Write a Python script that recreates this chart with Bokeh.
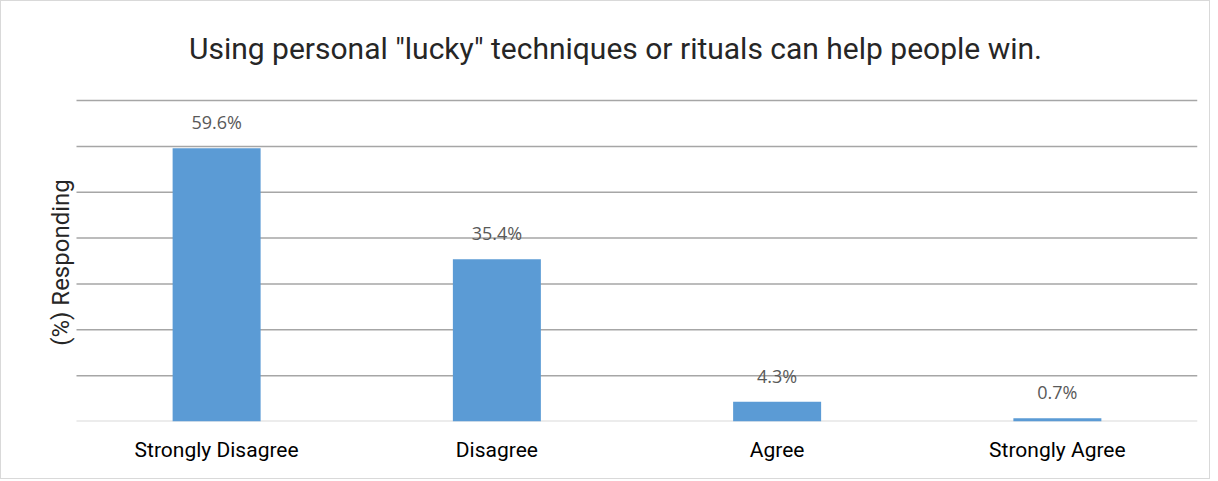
import math
from bokeh.plotting import figure
from bokeh.models import ColumnDataSource, LabelSet, Label, Range1d, FixedTicker
from bokeh.core.properties import value
from bokeh.embed import file_html
from bokeh.resources import INLINE

categories = ["Strongly Disagree", "Disagree", "Agree", "Strongly Agree"]
values = [59.6, 35.4, 4.3, 0.7]
labels = ["59.6%", "35.4%", "4.3%", "0.7%"]
grid_ticks = [10, 20, 30, 40, 50, 60, 70]
title_text = 'Using personal "lucky" techniques or rituals can help people win.'
y_label = "(%) Responding"

n = len(categories)
xpos = [i + 0.5 for i in range(n)]
src = ColumnDataSource(dict(x=xpos, cat=categories, val=values, lab=labels))

# frame covers the whole figure except the category-label strip; ranges extended so that
# the category area starts at x=0 and the 70% gridline sits where the reference has it
p = figure(x_range=Range1d(-0.2676, n), y_range=Range1d(0, 91.6), width=1210, height=479,
           output_backend="svg", toolbar_location=None, title_location=None,
           min_border_left=0, min_border_right=14, min_border_top=0, min_border_bottom=59)
p.styles = {"border": "1px solid #d9d9d9"}
p.outline_line_color = None
p.xgrid.grid_line_color = None
p.ygrid.grid_line_color = None

# gridlines across the category area only
p.segment(x0=0, x1=n, y0=grid_ticks, y1=grid_ticks, line_color="#a6a6a6", line_width=1.5)
# baseline
p.segment(x0=[0], x1=[n], y0=[0], y1=[0], line_color="#d9d9d9", line_width=2)

p.vbar(x="x", top="val", width=0.314, source=src, color="#5b9bd5", line_color=None)

p.add_layout(LabelSet(x="x", y="val", text="lab", source=src, text_align="center",
                      text_baseline="bottom", y_offset=14, text_font=value("Open Sans"),
                      text_font_size="18px", text_color="#595959"))

# title and y label, in screen units relative to the frame
p.add_layout(Label(x=614, y=373, x_units="screen", y_units="screen", text=title_text,
                   text_align="center", text_baseline="middle", text_font="Roboto",
                   text_font_size="30px", text_color="#262626"))
p.add_layout(Label(x=59, y=159, x_units="screen", y_units="screen", text=y_label,
                   angle=math.pi / 2, text_align="center", text_baseline="middle",
                   text_font="Roboto", text_font_size="24px", text_color="#262626"))

p.xaxis.ticker = FixedTicker(ticks=xpos)
p.xaxis.major_label_overrides = {x: c for x, c in zip(xpos, categories)}
p.xaxis.axis_line_color = None
p.xaxis.major_tick_line_color = None
p.xaxis.minor_tick_line_color = None
p.xaxis.major_label_text_font = "Roboto"
p.xaxis.major_label_text_font_size = "21px"
p.xaxis.major_label_text_color = "#000000"
p.xaxis.major_label_standoff = 10

p.yaxis.visible = False

open("out.html", "w").write(file_html(p, INLINE))
